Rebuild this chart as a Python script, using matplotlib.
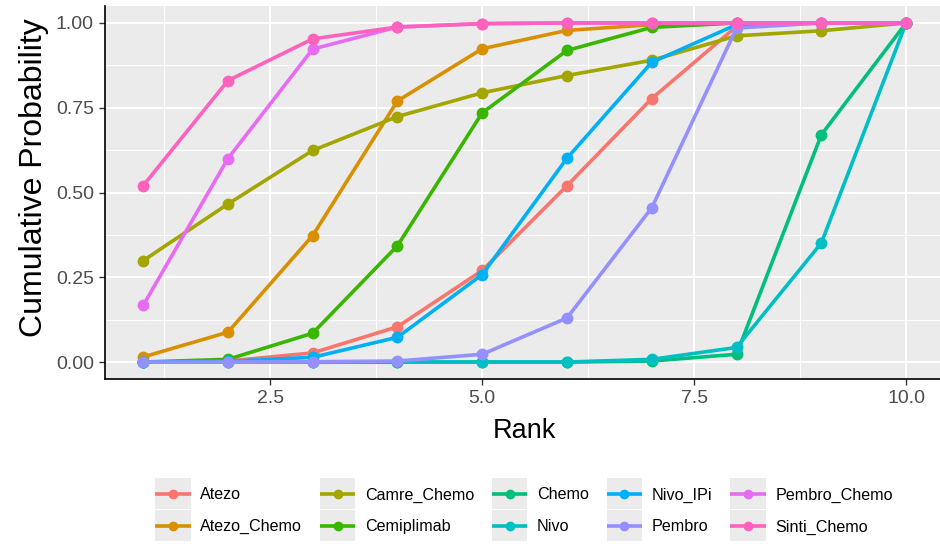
import matplotlib
matplotlib.use("Agg")
import matplotlib.pyplot as plt
from matplotlib.legend_handler import HandlerLine2D
from matplotlib.patches import Rectangle
from matplotlib.ticker import MultipleLocator

plt.rcParams['font.family'] = ['Liberation Sans', 'DejaVu Sans']

ranks = [1, 2, 3, 4, 5, 6, 7, 8, 9, 10]

treatments = ["Atezo", "Atezo_Chemo", "Camre_Chemo", "Cemiplimab", "Chemo",
              "Nivo", "Nivo_IPi", "Pembro", "Pembro_Chemo", "Sinti_Chemo"]

colors = ["#F8766D", "#D89000", "#A3A500", "#39B600", "#00BF7D",
          "#00BFC4", "#00B0F6", "#9590FF", "#E76BF3", "#FF62BC"]

atezo        = [0.000, 0.003, 0.027, 0.104, 0.270, 0.520, 0.777, 0.990, 1.000, 1.000]
atezo_chemo  = [0.015, 0.088, 0.373, 0.770, 0.924, 0.978, 0.995, 1.000, 1.000, 1.000]
camre_chemo  = [0.299, 0.466, 0.624, 0.724, 0.794, 0.845, 0.890, 0.962, 0.977, 1.000]
cemiplimab   = [0.000, 0.008, 0.085, 0.343, 0.735, 0.919, 0.987, 1.000, 1.000, 1.000]
chemo        = [0.000, 0.000, 0.000, 0.000, 0.000, 0.000, 0.003, 0.023, 0.670, 1.000]
nivo         = [0.000, 0.000, 0.000, 0.000, 0.000, 0.000, 0.008, 0.043, 0.351, 1.000]
nivo_ipi     = [0.000, 0.002, 0.014, 0.073, 0.258, 0.601, 0.884, 0.995, 1.000, 1.000]
pembro       = [0.000, 0.000, 0.001, 0.003, 0.023, 0.130, 0.455, 0.985, 1.000, 1.000]
pembro_chemo = [0.167, 0.600, 0.923, 0.988, 0.998, 1.000, 1.000, 1.000, 1.000, 1.000]
sinti_chemo  = [0.520, 0.830, 0.953, 0.988, 0.998, 1.000, 1.000, 1.000, 1.000, 1.000]

series = [atezo, atezo_chemo, camre_chemo, cemiplimab, chemo,
          nivo, nivo_ipi, pembro, pembro_chemo, sinti_chemo]

W, H = 940, 544
fig = plt.figure(figsize=(W / 100, H / 100), dpi=100)
ax = fig.add_axes([105 / W, 165 / H, 835 / W, 373 / H])
ax.set_facecolor("#EBEBEB")

handles = []
for name, vals, col in zip(treatments, series, colors):
    h, = ax.plot(ranks, vals, color=col, lw=2.6, marker="o", ms=7.5,
                 solid_capstyle="butt", label=name, zorder=3)
    handles.append(h)

ax.set_xlim(0.55, 10.40)
ax.set_ylim(-0.05, 1.05)
ax.xaxis.set_minor_locator(MultipleLocator(1.25))
ax.yaxis.set_minor_locator(MultipleLocator(0.125))
ax.set_xticks([2.5, 5.0, 7.5, 10.0])
ax.set_xticklabels(["2.5", "5.0", "7.5", "10.0"])
ax.set_yticks([0, 0.25, 0.5, 0.75, 1.0])
ax.set_yticklabels(["0.00", "0.25", "0.50", "0.75", "1.00"])

ax.grid(which="major", color="white", lw=1.5, zorder=0)
ax.grid(which="minor", color="white", lw=0.75, zorder=0)
ax.set_axisbelow(True)
ax.tick_params(which="major", length=4.5, width=1, color="#333333",
               labelsize=14, labelcolor="#4D4D4D", pad=3.5)
ax.tick_params(which="minor", length=0)

for s in ["top", "right"]:
    ax.spines[s].set_visible(False)
for s in ["left", "bottom"]:
    ax.spines[s].set_color("black")
    ax.spines[s].set_linewidth(1.2)

# axis titles
fig.text(524 / W, 1 - 438 / H, "Rank", fontsize=19.5, ha="center",
         va="baseline")
fig.text(42 / W, 1 - 178 / H, "Cumulative Probability", fontsize=23,
         rotation=90, rotation_mode="anchor", ha="center", va="baseline")


class KeyHandler(HandlerLine2D):
    def create_artists(self, legend, orig_handle, xdescent, ydescent,
                       width, height, fontsize, trans):
        bg = Rectangle((-xdescent, -ydescent - 7), width, height + 14,
                       facecolor="#EBEBEB", edgecolor="none", transform=trans)
        arts = super().create_artists(legend, orig_handle, xdescent, ydescent,
                                      width, height, fontsize, trans)
        return [bg] + arts


leg = fig.legend(handles=handles, labels=treatments, ncol=5,
                 loc="center", bbox_to_anchor=(524 / W, 33 / H),
                 frameon=False, fontsize=11.6, handlelength=2.2,
                 handletextpad=0.6, columnspacing=1.1, labelspacing=1.05,
                 markerscale=0.8,
                 handler_map={h: KeyHandler() for h in handles})

fig.savefig("out.png", dpi=100)
